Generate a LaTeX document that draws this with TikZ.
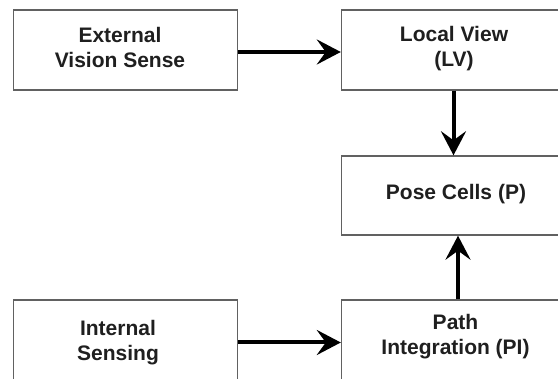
\documentclass[tikz,border=0pt]{standalone}
\usepackage{fontspec}
\setmainfont{Liberation Sans}
\usetikzlibrary{arrows.meta}
\begin{document}
\begin{tikzpicture}[x=1pt,y=1pt,
  box/.style={draw=black!62, line width=1.4pt, fill=white,
    minimum width=224pt, minimum height=80pt, inner sep=0pt},
  lbl/.style={font=\fontsize{21}{25}\selectfont\bfseries, align=center, text=black!88},
  flow/.style={line width=4pt, -{Stealth[length=24pt,width=25pt,inset=9pt]}}]
\useasboundingbox (0,0) rectangle (558,379);
\clip (0,0) rectangle (558,379);
\fill[white] (0,0) rectangle (558,379);

% blocks
\node[box] (ext)  at (125.5,329) {};
\node[box] (lv)   at (453.5,329) {};
\node[box, minimum height=79pt] (pose) at (453.5,183.5) {};
\node[box, minimum height=85pt] (int)  at (125.5,36.5) {};
\node[box, minimum height=85pt] (pi)   at (453.5,36.5) {};

% block texts
\node[lbl] (extT)  at (120,331.5) {External\\Vision Sense};
\node[lbl] (lvT)   at (454,330)   {Local View\\(LV)};
\node[lbl, anchor=base] (poseT) at (456,179) {Pose Cells (P)};
\node[lbl] (intT)  at (118,36)    {Internal\\Sensing};
\node[lbl] (piT)   at (455.5,42)  {Path\\Integration (PI)};

% connections
\draw[flow] ([yshift=-2pt]ext.east) -- ([yshift=-2pt]lv.west);
\draw[flow] (lv.south) -- (pose.north);
\draw[flow] (int.east) -- (pi.west);
\draw[flow] ([xshift=4.5pt]pi.north) -- ([xshift=4.5pt]pose.south);
\end{tikzpicture}
\end{document}
